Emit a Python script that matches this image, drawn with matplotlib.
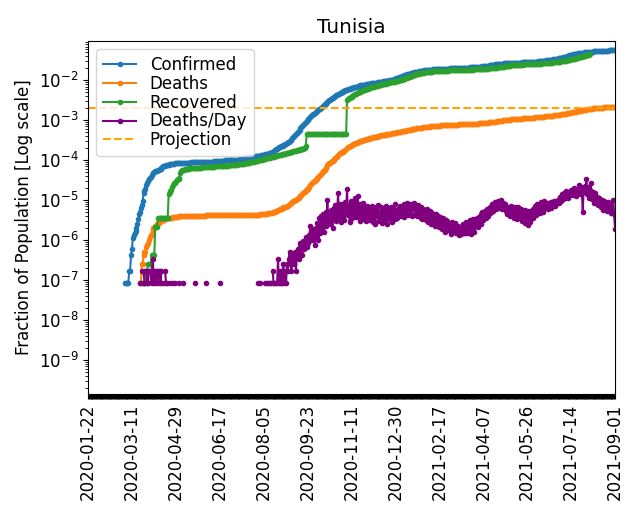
import numpy as np
import pandas as pd
import matplotlib
matplotlib.use("Agg")
import matplotlib.pyplot as plt
import matplotlib.dates as mdates
from matplotlib.ticker import LogLocator, NullFormatter

plt.rcParams['font.size'] = 12

country = "Tunisia"
population = 11818618
start_date = "2020-01-22"
projection = 0.00203

# cumulative confirmed cases, one value per day from 2020-01-22
confirmed = [
    0, 0, 0, 0, 0, 0, 0, 0, 0, 0, 0, 0, 0, 0, 0, 0, 0, 0, 0, 0,
    0, 0, 0, 0, 0, 0, 0, 0, 0, 0, 0, 0, 0, 0, 0, 0, 0, 0, 0, 0, 0,
    1, 1, 1, 1, 1, 2, 2, 5, 7, 13, 16, 18, 20, 24, 29, 39, 54, 60, 75, 89, 114, 173, 197, 227, 278, 312, 362, 394, 423,
    455, 495, 553, 574, 596, 623, 628, 643, 671, 685, 707, 726, 747, 780, 822, 864, 866, 879, 884, 909, 918, 922, 939, 949, 953, 965, 967, 975, 975, 980,
    994, 998, 1009, 1013, 1018, 1022, 1025, 1026, 1030, 1032, 1032, 1032, 1032, 1032, 1032, 1035, 1037, 1043, 1044, 1045, 1045, 1045, 1046, 1048, 1051, 1051, 1051, 1068, 1071, 1071, 1076,
    1077, 1084, 1086, 1087, 1087, 1087, 1087, 1087, 1087, 1093, 1094, 1096, 1110, 1110, 1125, 1128, 1132, 1135, 1146, 1148, 1152, 1157, 1159, 1160, 1164, 1168, 1172, 1174, 1174, 1175,
    1178, 1181, 1186, 1188, 1192, 1199, 1205, 1216, 1221, 1231, 1245, 1263, 1282, 1295, 1319, 1327, 1346, 1367, 1381, 1394, 1398, 1403, 1429, 1443, 1455, 1463, 1484, 1495, 1510, 1518, 1535,
    1535, 1584, 1584, 1601, 1613, 1626, 1642, 1656, 1678, 1711, 1748, 1792, 1829, 1850, 1903, 1956, 2029, 2140, 2218, 2311, 2409, 2507, 2573, 2607, 2687, 2731, 2837, 2893, 3069, 3069, 3185,
    3323, 3389, 3571, 3685, 3803, 4141, 4542, 4706, 4966, 5417, 5698, 6050, 6443, 6825, 7383, 7899, 8570, 9025, 9530, 10037, 10549, 11125, 11693, 12395, 13305, 14063, 14902, 15837, 16806, 17405,
    18166, 19193, 20024, 20742, 21418, 22230, 23227, 24542, 25701, 27142, 28542, 29759, 31079, 32501, 33996, 35515, 37042, 38550, 40056, 41547, 43099, 44745, 46399, 48017, 49782, 51574, 53485, 55169, 56212, 57906, 59487,
    61000, 62584, 64073, 66077, 67524, 69176, 70653, 71809, 72869, 74023, 75396, 76918, 78208, 79512, 80722, 81826, 82870, 84151, 85364, 86602, 87894, 88997, 90051, 90982, 91968, 92964, 93855, 94612, 95474, 96291,
    97095, 97854, 98727, 99600, 100611, 101527, 102408, 103174, 103854, 104712, 105609, 106538, 107548, 108547, 109552, 110647, 111651, 112739, 113731, 114806, 115874, 117005, 118215, 119457, 121047, 122519, 123917, 125347, 127152, 129318, 132008,
    134830, 137452, 140162, 143165, 146208, 149328, 152486, 155593, 158543, 161353, 164150, 166874, 169587, 172234, 174891, 177405, 179800, 182205, 184689, 187142, 189506, 191870, 194018, 196155, 198129, 200109, 202057, 204036, 205793, 207643, 209398,
    211031, 212535, 213980, 215398, 216691, 217933, 219001, 219977, 220947, 221886, 222812, 223703, 224612, 225449, 226220, 226934, 227645, 228335, 228999, 229652, 230234, 230856, 231462, 232021, 232539, 233092, 233602, 234124,
    234611, 235136, 235743, 236321, 236881, 237428, 237973, 238530, 239079, 239612, 240183, 240765, 241428, 242089, 242733, 243290, 243925, 244543, 245226, 245966, 246629, 247372, 248171, 248972, 249783, 250644, 251489, 252437, 253462, 254529, 255646,
    256853, 258127, 259439, 260913, 262506, 264130, 265823, 267648, 269492, 271439, 273567, 275712, 277925, 280196, 282611, 285050, 287590, 290196, 292687, 295140, 297461, 299677, 301784, 303755, 305557, 307279, 308844, 310329, 311739, 313105,
    314398, 315627, 316781, 317888, 318926, 319928, 320877, 321783, 322679, 323540, 324373, 325174, 325957, 326716, 327467, 328202, 328946, 329686, 330444, 331226, 332021, 332835, 333678, 334541, 335419, 336303, 337194, 338098, 339011, 339977, 341035,
    342279, 343723, 345365, 346974, 348605, 350260, 351973, 353764, 355640, 357603, 359672, 361809, 364075, 366460, 368989, 371649, 374377, 377172, 380042, 382999, 386042, 389179, 392421, 395779, 399270, 402928, 406774, 410817, 415084, 419596,
    424384, 429481, 434916, 440708, 446858, 453373, 460252, 467499, 475078, 482962, 490818, 498530, 505985, 513174, 520086, 526715, 533060, 539130, 544934, 550486, 555805, 560912, 565833, 570591, 575209, 579711, 584103, 588383, 592538, 596556, 600420,
    604133, 607699, 611121, 614405, 617558, 620591, 623512, 626330, 629053, 631690, 634247, 636729, 639139, 641478, 643749, 645952, 648087, 650155, 652155, 654089, 655957, 657760, 659499, 661175, 662789, 664342, 665835, 667270, 668648, 669970, 671236, 672448,
]

# new deaths per day
deaths_per_day = [
    0, 0, 0, 0, 0, 0, 0, 0, 0, 0, 0, 0, 0, 0, 0, 0, 0, 0, 0, 0,
    0, 0, 0, 0, 0, 0, 0, 0, 0, 0, 0, 0, 0, 0, 0, 0, 0, 0, 0, 0,
    0, 0, 0, 0, 0, 0, 0, 0, 0, 0, 0, 0, 0, 0, 0, 0, 0, 0,
    1, 0, 2, 0, 2, 1, 0, 2, 1, 1, 2, 2,
    2, 1, 4, 2, 1, 2, 1, 2, 2, 1, 2, 1, 2, 0, 1, 0, 2, 1, 1, 0, 0, 1, 0, 0, 0, 1, 0, 1, 0, 0,
    0, 1, 0, 0, 0, 0, 1, 0, 0, 0, 0, 0, 0, 0, 0, 0, 0, 0, 0, 1, 0, 0, 0, 0, 0, 0, 0, 0, 0, 0, 0,
    0, 1, 0, 0, 0, 0, 0, 0, 0, 0, 0, 0, 0, 0, 0, 0, 1, 0, 0, 0, 0, 0, 0, 0, 0, 0, 0, 0, 0, 0,
    0, 0, 0, 0, 0, 0, 0, 0, 0, 0, 0, 0, 0, 0, 0, 0, 0, 0, 0, 0, 0, 0, 0, 0, 0, 0, 0, 0, 0, 1, 0,
    1, 0, 0, 0, 0, 0, 1, 0, 1, 1, 0, 1, 1, 0, 2, 1, 1, 0, 1, 1, 4, 1, 2, 1, 1, 2, 3, 1, 2, 1, 3,
    2, 4, 6, 3, 2, 5, 4, 3, 6, 2, 5, 7, 4, 10, 6, 8, 5, 11, 7, 9, 14, 8, 12, 10, 16, 26, 12, 18, 22, 15,
    9, 24, 15, 31, 12, 42, 18, 47, 22, 53, 19, 40, 61, 27, 122, 33, 58, 29, 67, 41, 24, 73, 46, 88, 35, 64, 176, 41, 95, 33, 78,
    45, 96, 38, 104, 61, 220, 49, 87, 33, 112, 70, 41, 95, 52, 130, 44, 81, 150, 57, 36, 92, 63, 40, 101, 48, 77, 35, 86, 42, 68,
    38, 71, 42, 84, 33, 62, 29, 77, 46, 90, 35, 58, 41, 79, 31, 66, 48, 37, 85, 44, 30, 69, 52, 40, 81, 34, 63, 45, 92, 39, 55,
    41, 70, 52, 86, 47, 75, 58, 95, 44, 81, 62, 100, 50, 77, 66, 92, 48, 84, 71, 102, 53, 74, 46, 88, 61, 75, 43, 78, 39, 70, 49,
    66, 38, 71, 33, 59, 42, 64, 29, 55, 36, 49, 27, 52, 40, 31, 47, 25, 44, 34, 22, 41, 30, 19, 38, 26, 35, 21, 30,
    28, 17, 34, 19, 25, 19, 31, 18, 22, 27, 16, 24, 17, 20, 29, 18, 23, 18, 33, 18, 26, 21, 37, 17, 28, 24, 40, 19, 33, 27, 42,
    25, 44, 31, 52, 29, 58, 37, 49, 63, 41, 72, 48, 66, 55, 81, 59, 94, 62, 78, 103, 69, 88, 112, 74, 96, 80, 118, 71, 99, 84,
    94, 62, 81, 53, 73, 70, 47, 86, 58, 76, 42, 78, 51, 67, 39, 79, 55, 44, 72, 36, 64, 49, 31, 68, 41, 57, 28, 62, 34, 48, 55,
    42, 71, 58, 86, 50, 94, 66, 79, 57, 103, 70, 88, 61, 112, 83, 74, 101, 69, 97, 84, 108, 76, 108, 91, 115, 82, 97, 99, 122, 110,
    98, 141, 115, 163, 124, 182, 137, 201, 150, 176, 132, 189, 164, 217, 158, 203, 231, 176, 202, 149, 222, 198, 290, 171, 249, 184, 60, 221, 262, 183, 395,
    172, 248, 137, 206, 318, 128, 193, 151, 98, 176, 114, 145, 89, 136, 102, 77, 122, 91, 68, 109, 76, 94, 62, 103, 71, 88, 55, 97, 64, 118, 52, 22,
]

# cumulative recovered, reporting stopped on 2021-08-04
recovered = [
    0, 0, 0, 0, 0, 0, 0, 0, 0, 0, 0, 0, 0, 0, 0, 0, 0, 0, 0, 0,
    0, 0, 0, 0, 0, 0, 0, 0, 0, 0, 0, 0, 0, 0, 0, 0, 0, 0, 0, 0,
    0, 0, 0, 0, 0, 0, 0, 0, 0, 0, 0, 0, 0, 0, 0, 0, 0, 0, 0, 0,
    1, 1, 1, 1, 1, 2, 2, 3, 3, 3,
    3, 5, 5, 5, 5, 25, 25, 25, 43, 43, 43, 43, 43, 43, 43, 43, 43, 43, 43, 43, 165, 183, 200, 214, 250, 283, 320, 320, 354, 380,
    390, 400, 420, 560, 640, 660, 675, 688, 698, 706, 713, 719, 724, 729, 733, 737, 741, 745, 748, 751, 754, 757, 760, 763, 766, 769, 772, 775, 778, 781, 784,
    787, 790, 793, 796, 799, 802, 805, 808, 811, 814, 817, 820, 823, 826, 829, 832, 835, 838, 841, 844, 847, 851, 855, 859, 863, 867, 871, 875, 879, 883,
    888, 893, 898, 903, 909, 915, 921, 927, 934, 941, 948, 956, 964, 972, 981, 990, 999, 1009, 1019, 1030, 1041, 1053, 1065, 1078, 1091, 1105, 1119, 1134, 1149, 1165, 1181,
    1195, 1210, 1225, 1240, 1256, 1272, 1288, 1305, 1322, 1339, 1357, 1375, 1393, 1412, 1431, 1450, 1470, 1490, 1510, 1531, 1552, 1573, 1595, 1617, 1639, 1662, 1685, 1708, 1732, 1756, 1780,
    1805, 1830, 1856, 1882, 1908, 1935, 1962, 1990, 2018, 2046, 2075, 2104, 2134, 2164, 2195, 2226, 2258, 2290, 2323, 2356, 2600, 5437, 5437, 5437, 5437, 5437, 5437, 5437, 5437, 5437,
    5437, 5437, 5437, 5437, 5437, 5437, 5437, 5437, 5437, 5437, 5437, 5437, 5437, 5437, 5437, 5437, 5437, 5437, 5437, 5437, 5437, 5437, 5437, 5437, 5437, 5437, 5437, 5437, 5437, 5437, 5437,
    5437, 5437, 5437, 5437, 5437, 38400, 40000, 41600, 43200, 44800, 46400, 48000, 49600, 51200, 52800, 54400, 56000, 57600, 59100, 60600, 62100, 63600, 65100, 66500, 67900, 69300, 70700, 72100, 73500, 74900,
    76300, 77600, 78900, 80200, 81500, 82800, 84100, 85300, 86500, 87700, 88900, 90100, 91300, 92500, 93700, 94900, 96100, 97300, 98500, 99700, 100900, 102100, 103300, 104500, 105700, 106900, 108100, 109300, 110500, 111700, 112900,
    114500, 116200, 118000, 119900, 121900, 124000, 126200, 128500, 130900, 133400, 136000, 138700, 141500, 144300, 147100, 149900, 152700, 155500, 158300, 161000, 163700, 166300, 168800, 171200, 173500, 175700, 177800, 179800, 181700, 183500, 185200,
    186800, 188300, 189700, 191000, 192300, 193500, 194700, 195800, 196900, 197900, 198900, 199800, 200700, 201500, 202300, 203000, 203700, 204300, 204900, 205400, 205900, 206300, 206700, 207100, 207500, 207900, 208300, 208700,
    209100, 209500, 209900, 210300, 210700, 211100, 211500, 211900, 212300, 212700, 213100, 213500, 214000, 214500, 215000, 215500, 216000, 216500, 217000, 217500, 218000, 218600, 219200, 219800, 220400, 221000, 221600, 222200, 222800, 223400, 224000,
    224600, 225300, 226000, 226700, 227400, 228200, 229000, 229800, 230700, 231600, 232600, 233600, 234700, 235800, 237000, 238300, 239600, 241000, 242500, 244000, 245600, 247300, 249000, 250800, 252600, 254500, 256400, 258400, 260400, 262500,
    264600, 266700, 268800, 270900, 273000, 275000, 277000, 278900, 280700, 282400, 284000, 285500, 286900, 288200, 289400, 290500, 291500, 292400, 293200, 294000, 294800, 295600, 296400, 297200, 298000, 298800, 299600, 300400, 301200, 302000, 302800,
    303600, 304400, 305200, 306000, 306900, 307800, 308700, 309700, 310700, 311800, 312900, 314100, 315300, 316600, 317900, 319300, 320700, 322200, 323700, 325300, 326900, 328600, 330300, 332100, 333900, 335800, 337800, 339900, 342100, 344400,
    346800, 349300, 351900, 354700, 357700, 360900, 364300, 367900, 371700, 375700, 379900, 384300, 388900, 393700, 398700, 403900, 409300, 414900, 420700, 426700, 432900, 439300, 445900, 452600, 459400, 466300, 473300, 480400, 487600, 494900, 502300,
    509800, 517300, 524800, 532300,
]

assert len(confirmed) == 589, len(confirmed)
assert len(deaths_per_day) == 589, len(deaths_per_day)
assert len(recovered) == 561, len(recovered)

dates = pd.date_range(start_date, periods=len(confirmed), freq="D")
deaths = np.cumsum(deaths_per_day)


def frac(values):
    arr = np.asarray(values, dtype=float)
    return np.where(arr > 0, arr / population, np.nan)


fig = plt.figure(figsize=(6.4, 5.2), dpi=100)
ax = fig.add_axes([0.1375, 0.2423, 0.8235, 0.6789])

ax.plot(dates, frac(confirmed), '.-', color='C0', label='Confirmed')
ax.plot(dates, frac(deaths), '.-', color='C1', label='Deaths')
ax.plot(dates[:len(recovered)], frac(recovered), '.-', color='C2', label='Recovered')
ax.plot(dates, frac(deaths_per_day), '.-', color='purple', label='Deaths/Day')
ax.axhline(projection, color='orange', linestyle='--', label='Projection')

ax.set_yscale('log')
ax.set_ylim(1.38e-10, 0.097)
ax.yaxis.set_major_locator(LogLocator(base=10, numticks=15))
ax.yaxis.set_minor_locator(LogLocator(base=10, subs=np.arange(2, 10), numticks=15))
ax.yaxis.set_minor_formatter(NullFormatter())

ax.set_xlim(dates[0], dates[-1])
ax.set_xticks(dates[::49])
ax.xaxis.set_major_formatter(mdates.DateFormatter('%Y-%m-%d'))
ax.xaxis.set_minor_locator(mdates.DayLocator())
ax.tick_params(axis='x', which='both', length=3.5, width=0.8)
plt.setp(ax.get_xticklabels(), rotation=90)

ax.set_ylabel('Fraction of Population [Log scale]')
ax.set_title(country)
ax.legend(loc='upper left', labelspacing=0.05)

fig.savefig('out.png', dpi=100)
